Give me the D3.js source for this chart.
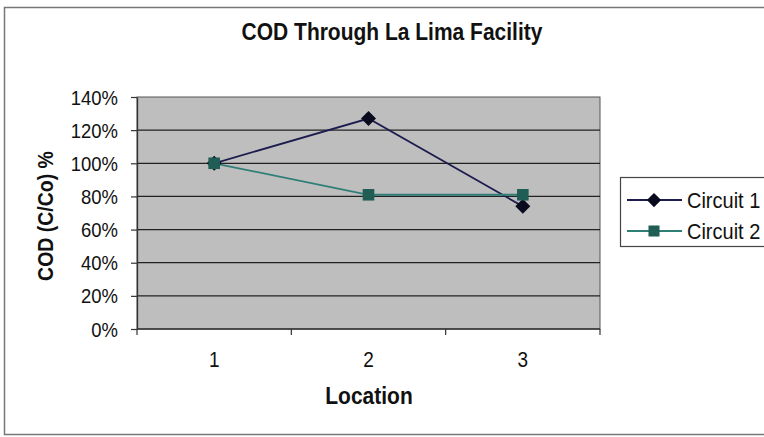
<!DOCTYPE html>
<html>
<head>
<meta charset="utf-8">
<script src="https://cdn.jsdelivr.net/npm/d3@7/dist/d3.min.js"></script>
<style>
  html, body { margin: 0; padding: 0; background: #fff; }
  svg { display: block; font-family: "Liberation Sans", Arial, sans-serif; }
</style>
</head>
<body>
<svg id="chart" width="764" height="437"></svg>
<script>
// Data
const locations = ["1", "2", "3"];
const circuit1 = [100, 127, 74];
const circuit2 = [100, 81, 81];
const yTicks = [0, 20, 40, 60, 80, 100, 120, 140];
const seriesNames = ["Circuit 1", "Circuit 2"];

const svg = d3.select("#chart");
const W = 764;
const STRETCH = 1.12; // text glyphs are slightly taller than wide

// Outer chart frame
svg.append("rect")
  .attr("x", 4.5).attr("y", 7.5)
  .attr("width", W + 10).attr("height", 427)
  .attr("fill", "#fff").attr("stroke", "#777").attr("stroke-width", 1.5);

const plot = { left: 137, right: 600, top: 97, bottom: 329 };

const x = d3.scaleBand().domain(locations).range([plot.left, plot.right]);
const y = d3.scaleLinear().domain([0, 140]).range([plot.bottom, plot.top]);

// Plot area background
svg.append("rect")
  .attr("x", plot.left).attr("y", plot.top)
  .attr("width", plot.right - plot.left).attr("height", plot.bottom - plot.top)
  .attr("fill", "#bebebe").attr("stroke", "#555").attr("stroke-width", 1);

// Horizontal gridlines
svg.append("g")
  .selectAll("line")
  .data(yTicks.filter(t => t > 0 && t < 140))
  .join("line")
  .attr("x1", plot.left).attr("x2", plot.right)
  .attr("y1", d => y(d)).attr("y2", d => y(d))
  .attr("stroke", "#222").attr("stroke-width", 1.3);

// Y axis
const yAxis = svg.append("g")
  .attr("transform", `translate(${plot.left},0)`)
  .call(d3.axisLeft(y).tickValues(yTicks).tickFormat(d => d + "%").tickSize(6).tickSizeOuter(0));
yAxis.select(".domain").attr("stroke", "#333").attr("stroke-width", 1.3);
yAxis.selectAll(".tick line").attr("stroke", "#333").attr("stroke-width", 1.2);
yAxis.selectAll(".tick text")
  .attr("x", -19).attr("dy", "0.34em")
  .attr("transform", `scale(1,${STRETCH})`)
  .attr("font-size", 18.5).attr("fill", "#111")
  .attr("font-family", "Liberation Sans, Arial, sans-serif");

// X axis with ticks at band boundaries
const xAxisG = svg.append("g").attr("transform", `translate(0,${plot.bottom})`);
xAxisG.append("line")
  .attr("x1", plot.left).attr("x2", plot.right)
  .attr("stroke", "#333").attr("stroke-width", 1.3);
const boundaries = locations.map(d => x(d)).concat([x(locations[locations.length - 1]) + x.bandwidth()]);
xAxisG.selectAll("line.tk")
  .data(boundaries)
  .join("line").attr("class", "tk")
  .attr("x1", d => d).attr("x2", d => d)
  .attr("y1", 0).attr("y2", 6)
  .attr("stroke", "#333").attr("stroke-width", 1.2);
xAxisG.selectAll("text")
  .data(locations)
  .join("text")
  .attr("transform", d => `translate(${x(d) + x.bandwidth() / 2},38) scale(1,${STRETCH})`)
  .attr("text-anchor", "middle")
  .attr("font-size", 19).attr("fill", "#111")
  .text(d => d);

// Titles
svg.append("text")
  .attr("transform", `translate(392,40) scale(1,${STRETCH})`)
  .attr("text-anchor", "middle")
  .attr("font-size", 21).attr("font-weight", "bold").attr("fill", "#111")
  .text("COD Through La Lima Facility");

svg.append("text")
  .attr("transform", `translate(369,404) scale(1,${STRETCH})`)
  .attr("text-anchor", "middle")
  .attr("font-size", 21).attr("font-weight", "bold").attr("fill", "#111")
  .text("Location");

svg.append("text")
  .attr("transform", `translate(53,216) rotate(-90) scale(1,${STRETCH})`)
  .attr("text-anchor", "middle")
  .attr("font-size", 19.5).attr("font-weight", "bold").attr("fill", "#111")
  .text("COD (C/Co) %");

// Marker shapes
const diamond = r => `M0,${-r}L${r},0L0,${r}L${-r},0Z`;
const square = r => `M${-r},${-r}H${r}V${r}H${-r}Z`;

// Series
const cx = d => x(d) + x.bandwidth() / 2;
const series = [
  { name: seriesNames[0], values: circuit1, line: "#1c1c4e", marker: "#0a0a1e", shape: diamond, r: 7.5 },
  { name: seriesNames[1], values: circuit2, line: "#2f7f76", marker: "#1f5d55", shape: square, r: 5.8 }
];

const lineGen = d3.line().x(d => cx(d.loc)).y(d => y(d.v));

series.forEach(s => {
  const pts = locations.map((loc, i) => ({ loc, v: s.values[i] }));
  svg.append("path")
    .datum(pts)
    .attr("d", lineGen)
    .attr("fill", "none")
    .attr("stroke", s.line).attr("stroke-width", 1.8);
});
series.forEach(s => {
  const pts = locations.map((loc, i) => ({ loc, v: s.values[i] }));
  svg.append("g").selectAll("path")
    .data(pts)
    .join("path")
    .attr("transform", d => `translate(${cx(d.loc)},${y(d.v)})`)
    .attr("d", s.shape(s.r))
    .attr("fill", s.marker);
});

// Legend
const legend = svg.append("g");
legend.append("rect")
  .attr("x", 620.5).attr("y", 177.5)
  .attr("width", 160).attr("height", 69)
  .attr("fill", "#fff").attr("stroke", "#444").attr("stroke-width", 1.2);
series.forEach((s, i) => {
  const ly = 200 + i * 31;
  legend.append("line")
    .attr("x1", 627).attr("x2", 682).attr("y1", ly).attr("y2", ly)
    .attr("stroke", s.line).attr("stroke-width", 1.8);
  legend.append("path")
    .attr("transform", `translate(654,${ly})`)
    .attr("d", s.shape(s.r * 0.95))
    .attr("fill", s.marker);
  legend.append("text")
    .attr("transform", `translate(687,${ly}) scale(1,${STRETCH})`)
    .attr("dy", "0.36em")
    .attr("font-size", 20).attr("fill", "#111")
    .text(s.name);
});
</script>
</body>
</html>
